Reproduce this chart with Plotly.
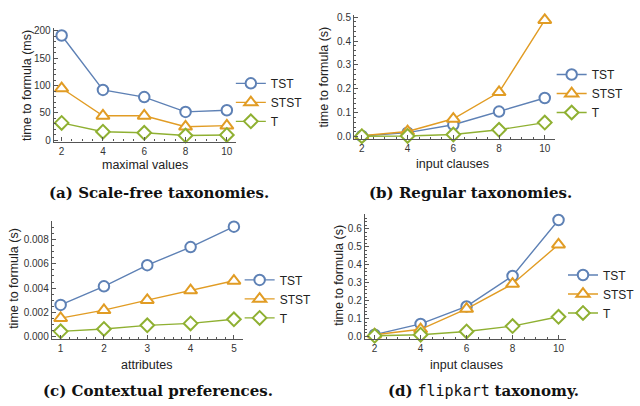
import plotly.graph_objects as go

# ---- data ----
x_a = [2, 4, 6, 8, 10]
a_tst = [191, 92, 79, 52, 55]
a_stst = [95, 45, 45, 25, 27]
a_t = [32, 16, 14, 9, 10]

x_b = [2, 4, 6, 8, 10]
b_tst = [0.003, 0.017, 0.05, 0.105, 0.162]
b_stst = [0.004, 0.022, 0.075, 0.186, 0.488]
b_t = [0.002, 0.003, 0.009, 0.029, 0.059]

x_c = [1, 2, 3, 4, 5]
c_tst = [0.0026, 0.00414, 0.0059, 0.0074, 0.0091]
c_stst = [0.0015, 0.00216, 0.0030, 0.0038, 0.0046]
c_t = [0.0004, 0.0006, 0.0009, 0.00106, 0.0014]

x_d = [2, 4, 6, 8, 10]
d_tst = [0.01, 0.07, 0.168, 0.338, 0.65]
d_stst = [0.01, 0.04, 0.154, 0.293, 0.513]
d_t = [0.004, 0.01, 0.028, 0.058, 0.11]

series_names = ["TST", "STST", "T"]
colors = ["#5E81B5", "#E19C24", "#8FB032"]
symbols = ["circle", "triangle-up", "diamond"]
sizes = [10.5, 11.5, 10.5]

W, H = 640, 406
def px(x): return x / W
def py(y): return 1 - y / H

panels = [
    dict(x=x_a, ys=[a_tst, a_stst, a_t], xa="x", ya="y", leg="legend",
         xd=(55, 241), yd=(25, 141), xr=[1.62, 10.43], yr=[-2, 205.5],
         ydt=50, ymin=10, xdt=2, xmin=0.5, ytf=None,
         yt="time to formula (ms)", xt="maximal values",
         ytp=(27, 84), xtp=(148, 165), lp=(236, 67),
         cap="<b>(a) Scale-free taxonomies.</b>", capp=(163, 193)),
    dict(x=x_b, ys=[b_tst, b_stst, b_t], xa="x2", ya="y2", leg="legend2",
         xd=(362, 567), yd=(12, 138), xr=[1.66, 10.43], yr=[-0.008, 0.51],
         ydt=0.1, ymin=0.02, xdt=2, xmin=0.5, ytf=".1f",
         yt="time to formula (s)", xt="input clauses",
         ytp=(331, 75), xtp=(463, 164), lp=(564, 58),
         cap="<b>(b) Regular taxonomies.</b>", capp=(481, 193)),
    dict(x=x_c, ys=[c_tst, c_stst, c_t], xa="x3", ya="y3", leg="legend3",
         xd=(53, 248), yd=(221.7, 341.7), xr=[0.797, 5.2], yr=[-0.00022, 0.00958],
         ydt=0.002, ymin=0.0005, xdt=1, xmin=0.2, ytf=".3f",
         yt="time to formula (s)", xt="attributes",
         ytp=(14, 280), xtp=(150, 368), lp=(245, 267),
         cap="<b>(c) Contextual preferences.</b>", capp=(162, 395)),
    dict(x=x_d, ys=[d_tst, d_stst, d_t], xa="x4", ya="y4", leg="legend4",
         xd=(373, 579), yd=(215, 341.7), xr=[1.574, 10.34], yr=[-0.013, 0.682],
         ydt=0.1, ymin=0.02, xdt=2, xmin=0.5, ytf=".1f",
         yt="time to formula (s)", xt="input clauses",
         ytp=(347, 277), xtp=(477, 368), lp=(576, 262),
         cap="<b>(d)</b> <span style=\"font-family:'DejaVu Sans Mono';font-weight:normal\">flipkart</span> <b>taxonomy.</b>",
         capp=(494, 395)),
]

fig = go.Figure()
axis_color = "#555555"
tick_font = dict(family="Liberation Sans, Arial, sans-serif", size=10, color="#333333")
label_font = dict(family="Liberation Sans, Arial, sans-serif", size=12.5, color="#222222")

layout = dict(width=W, height=H, margin=dict(l=0, r=0, t=0, b=0),
              paper_bgcolor="white", plot_bgcolor="white", showlegend=True)
annotations = []

for i, p in enumerate(panels):
    for name, ys, c, s, sz in zip(series_names, p["ys"], colors, symbols, sizes):
        fig.add_trace(go.Scatter(
            x=p["x"], y=ys, name=name, mode="lines+markers",
            xaxis=p["xa"], yaxis=p["ya"], legend=p["leg"],
            line=dict(color=c, width=1.4),
            marker=dict(symbol=s, size=sz, color="white",
                        line=dict(color=c, width=2)),
            cliponaxis=False,
        ))
    xk = "xaxis" + ("" if i == 0 else str(i + 1))
    yk = "yaxis" + ("" if i == 0 else str(i + 1))
    layout[xk] = dict(
        domain=[px(p["xd"][0]), px(p["xd"][1])], range=p["xr"],
        anchor=p["ya"], showgrid=False, zeroline=False,
        showline=True, linecolor=axis_color, linewidth=1.2,
        ticks="inside", ticklen=4, tickcolor=axis_color, tickwidth=1,
        tick0=0, dtick=p["xdt"], tickfont=tick_font,
        minor=dict(ticks="inside", ticklen=2, tickcolor=axis_color, dtick=p["xmin"], tick0=0),
        fixedrange=True,
    )
    ya = dict(
        domain=[py(p["yd"][1]), py(p["yd"][0])], range=p["yr"],
        anchor=p["xa"], showgrid=False, zeroline=False,
        showline=True, linecolor=axis_color, linewidth=1.2,
        ticks="inside", ticklen=4, tickcolor=axis_color, tickwidth=1,
        tick0=0, dtick=p["ydt"], tickfont=tick_font,
        minor=dict(ticks="inside", ticklen=2, tickcolor=axis_color, dtick=p["ymin"], tick0=0),
        fixedrange=True,
    )
    if p["ytf"]:
        ya["tickformat"] = p["ytf"]
    layout[yk] = ya
    layout[p["leg"]] = dict(
        x=px(p["lp"][0]), y=py(p["lp"][1]), xanchor="left", yanchor="top",
        bgcolor="rgba(0,0,0,0)", font=dict(family="Liberation Sans, Arial, sans-serif", size=12, color="#222"),
        itemwidth=30, tracegroupgap=0,
    )
    annotations.append(dict(text=p["yt"], x=px(p["ytp"][0]), y=py(p["ytp"][1]),
                            xref="paper", yref="paper", showarrow=False, textangle=-90,
                            xanchor="center", yanchor="middle", font=label_font))
    annotations.append(dict(text=p["xt"], x=px(p["xtp"][0]), y=py(p["xtp"][1]),
                            xref="paper", yref="paper", showarrow=False,
                            xanchor="center", yanchor="middle", font=label_font))
    annotations.append(dict(text=p["cap"], x=px(p["capp"][0]), y=py(p["capp"][1]),
                            xref="paper", yref="paper", showarrow=False,
                            xanchor="center", yanchor="middle",
                            font=dict(family="DejaVu Serif, Liberation Serif, serif", size=15, color="#111")))

layout["annotations"] = annotations
fig.update_layout(**layout)
fig.write_html("out.html", config={"displayModeBar": False},
               post_script="document.body.style.margin='0';")
